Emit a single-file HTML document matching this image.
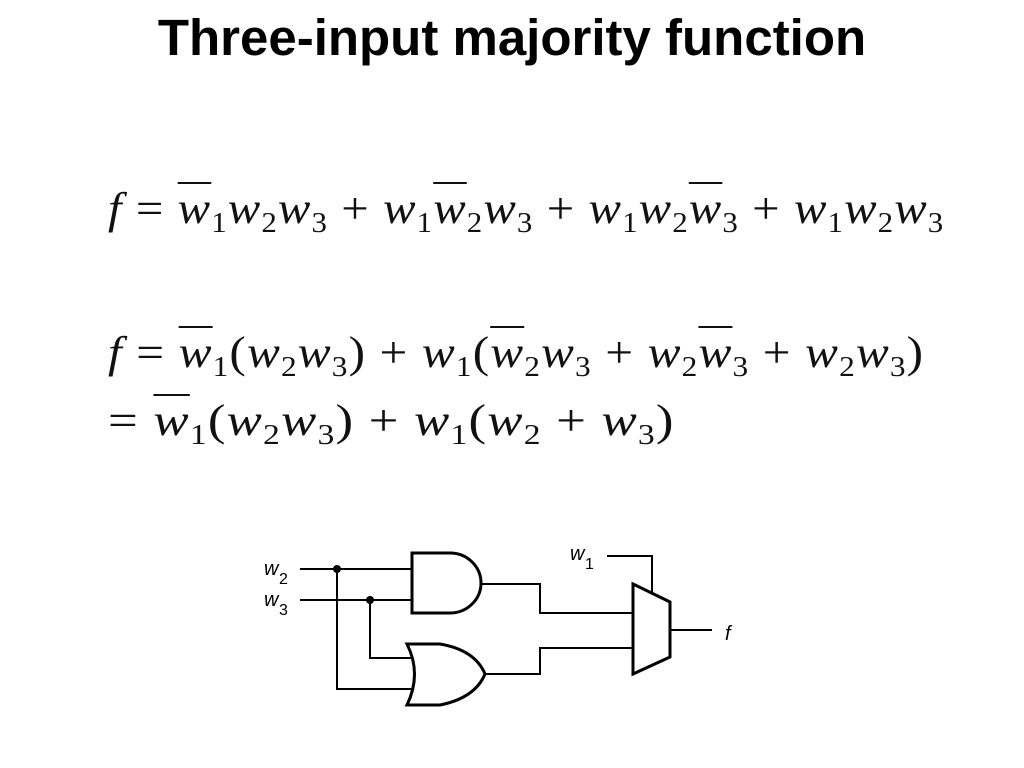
<!DOCTYPE html>
<html><head><meta charset="utf-8"><style>
body{margin:0;width:1024px;height:768px;background:#fff;position:relative;overflow:hidden;font-family:"Liberation Serif",serif;}
.t{position:absolute;left:0;width:1024px;text-align:center;top:8px;font:bold 51px "Liberation Sans",sans-serif;}
.eq{position:absolute;font-size:44px;white-space:nowrap;color:#111;transform-origin:0 50%;}
.eq i{font-style:italic}
.eq sub{font-size:28px;vertical-align:-9px;line-height:0}
.o{text-decoration:overline;text-decoration-thickness:2px}
</style></head><body>
<div class="t">Three-input majority function</div>
<div class="eq" style="left:108px;top:183px;letter-spacing:1px;transform:scaleX(1.105)"><i>f</i> = <i class="o">w</i><sub>1</sub><i>w</i><sub>2</sub><i>w</i><sub>3</sub> + <i>w</i><sub>1</sub><i class="o">w</i><sub>2</sub><i>w</i><sub>3</sub> + <i>w</i><sub>1</sub><i>w</i><sub>2</sub><i class="o">w</i><sub>3</sub> + <i>w</i><sub>1</sub><i>w</i><sub>2</sub><i>w</i><sub>3</sub></div>
<div class="eq" style="left:108px;top:327px;letter-spacing:1px;transform:scaleX(1.12)"><i>f</i> = <i class="o">w</i><sub>1</sub>(<i>w</i><sub>2</sub><i>w</i><sub>3</sub>) + <i>w</i><sub>1</sub>(<i class="o">w</i><sub>2</sub><i>w</i><sub>3</sub> + <i>w</i><sub>2</sub><i class="o">w</i><sub>3</sub> + <i>w</i><sub>2</sub><i>w</i><sub>3</sub>)</div>
<div class="eq" style="left:108px;top:395px;letter-spacing:1px;transform:scaleX(1.2)">= <i class="o">w</i><sub>1</sub>(<i>w</i><sub>2</sub><i>w</i><sub>3</sub>) + <i>w</i><sub>1</sub>(<i>w</i><sub>2</sub> + <i>w</i><sub>3</sub>)</div>
<svg width="1024" height="768" style="position:absolute;left:0;top:0" font-family="Liberation Sans,sans-serif">
<g fill="none" stroke="#000" stroke-width="2">
<path d="M300 569H412M300 600H412"/>
<path d="M337 569V689H413M370 600V658H413"/>
<path d="M412 553H450A31 30 0 0 1 450 613H412Z" stroke-width="3"/>
<path d="M407 644H440Q475 650 485 674Q475 698 440 705H407Q422 674 407 644Z" stroke-width="3"/>
<path d="M482 584H540V613H633M485 674H540V648H633"/>
<path d="M633 584L670 602V657L633 674Z" stroke-width="3"/>
<path d="M670 630H712M607 556H652V593"/>
</g>
<circle cx="337" cy="569" r="4"/><circle cx="370" cy="600" r="4"/>
<g font-style="italic" font-size="20">
<text x="264" y="575">w</text><text x="279" y="584" font-size="16" font-style="normal">2</text>
<text x="264" y="606">w</text><text x="279" y="615" font-size="16" font-style="normal">3</text>
<text x="570" y="560">w</text><text x="585" y="569" font-size="16" font-style="normal">1</text>
<text x="725" y="640">f</text>
</g>
</svg>
</body></html>
